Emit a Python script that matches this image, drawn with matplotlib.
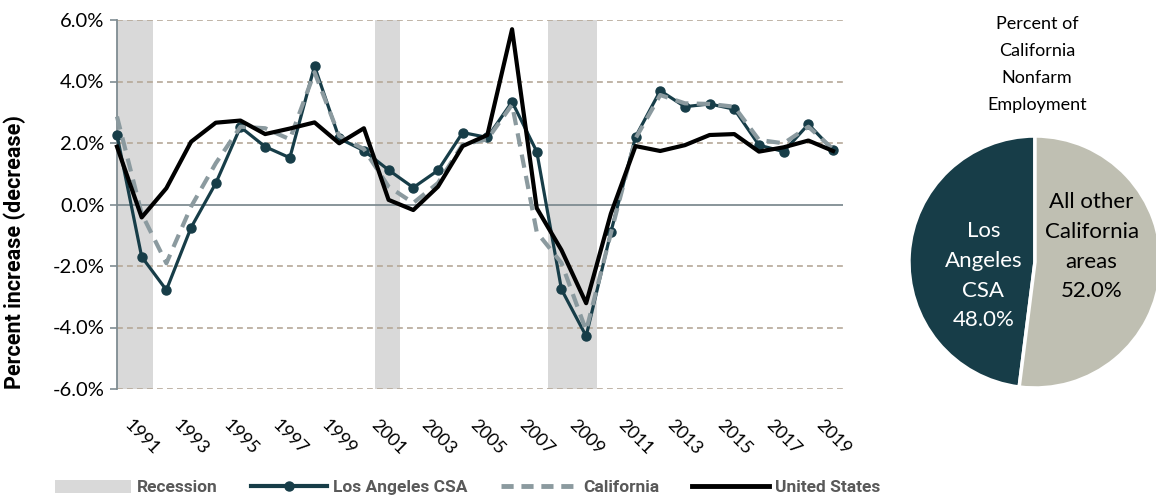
import matplotlib

matplotlib.use("Agg")
import matplotlib.pyplot as plt
from matplotlib.lines import Line2D
from matplotlib.patches import Patch

plt.rcParams["font.family"] = ["Lato", "DejaVu Sans"]
BOLD_FAMILY = ["Roboto", "DejaVu Sans"]

years = list(range(1990, 2020))
la_csa = [2.26, -1.70, -2.78, -0.75, 0.69, 2.52, 1.88, 1.52, 4.50, 2.15,
          1.75, 1.12, 0.55, 1.11, 2.34, 2.18, 3.34, 1.72, -2.76, -4.28,
          -0.90, 2.20, 3.70, 3.18, 3.27, 3.10, 1.93, 1.72, 2.61, 1.77]
california = [2.86, -0.30, -1.91, -0.07, 1.34, 2.53, 2.48, 2.12, 4.30, 2.23,
              1.80, 0.58, 0.05, 0.70, 1.95, 2.12, 3.25, -0.90, -1.90, -4.10,
              -0.94, 2.15, 3.56, 3.29, 3.27, 3.18, 2.10, 1.99, 2.53, 1.80]
united_states = [1.88, -0.42, 0.53, 2.04, 2.66, 2.73, 2.29, 2.47, 2.67, 1.99,
                 2.48, 0.15, -0.18, 0.58, 1.90, 2.26, 5.70, -0.12, -1.48, -3.21,
                 -0.30, 1.90, 1.74, 1.93, 2.26, 2.29, 1.72, 1.86, 2.08, 1.74]
recessions = [(1990.0, 1991.45), (2000.45, 2001.45), (2007.45, 2009.42)]
tick_years = list(range(1991, 2020, 2))
y_ticks = [-6, -4, -2, 0, 2, 4, 6]

pie_labels = ["Los\nAngeles\nCSA\n48.0%", "All other\nCalifornia\nareas\n52.0%"]
pie_shares = [48.0, 52.0]

LA_COLOR = "#173d48"
CA_COLOR = "#8b9a9f"
US_COLOR = "#000000"
REC_COLOR = "#d9d9d9"
GRID_COLOR = "#b5a898"
AXIS_COLOR = "#7f8c92"
OTHER_COLOR = "#bfbfb2"

fig = plt.figure(figsize=(11.56, 5.0), dpi=100)
ax = fig.add_axes([0.1012, 0.222, 0.628, 0.738])

for x0, x1 in recessions:
    ax.axvspan(x0, x1, color=REC_COLOR, lw=0, zorder=0)

for yv in y_ticks:
    if yv == 0:
        ax.axhline(0, color=AXIS_COLOR, lw=1.3, zorder=1)
    else:
        ax.axhline(yv, color=GRID_COLOR, lw=1.2, ls=(0, (3.5, 2.5)), zorder=0.5)

ax.plot(years, la_csa, color=LA_COLOR, lw=2.3, marker="o", ms=6.5, zorder=3, clip_on=False)
ax.plot(years, california, color=CA_COLOR, lw=3.0, ls=(0, (3.2, 2.0)), zorder=4, clip_on=False)
ax.plot(years, united_states, color=US_COLOR, lw=3.0, zorder=5, clip_on=False)

ax.set_xlim(1990, 2019.4)
ax.set_ylim(-6, 6)
ax.set_yticks(y_ticks)
ax.set_yticklabels([f"{v:.1f}%" for v in y_ticks], fontsize=14.5)
ax.set_xticks(tick_years)
ax.set_xticklabels([str(y) for y in tick_years], rotation=-45, ha="center",
                   va="top", fontsize=13)
ax.tick_params(axis="x", length=0, pad=20)
ax.tick_params(axis="y", length=5, color=AXIS_COLOR, width=1.2, pad=4)
for side in ["top", "right", "bottom"]:
    ax.spines[side].set_visible(False)
ax.spines["left"].set_color(AXIS_COLOR)
ax.spines["left"].set_linewidth(1.3)
ax.set_ylabel("Percent increase (decrease)", fontsize=15.5, fontweight="bold",
              family=BOLD_FAMILY)
ax.yaxis.set_label_coords(-0.125, 0.37)

handles = [
    Patch(facecolor=REC_COLOR, edgecolor="none"),
    Line2D([], [], color=LA_COLOR, lw=3, marker="o", ms=6.5),
    Line2D([], [], color=CA_COLOR, lw=3.5, ls=(0, (2.5, 1.6))),
    Line2D([], [], color=US_COLOR, lw=3.5),
]
leg = fig.legend(handles, ["Recession", "Los Angeles CSA", "California", "United States"],
                 loc="center", bbox_to_anchor=(0.4044, 0.025), ncol=4, frameon=False,
                 handlelength=4.4, handleheight=0.75, columnspacing=1.9, handletextpad=0.35,
                 prop={"size": 12.5, "weight": "bold", "family": BOLD_FAMILY})
for t in leg.get_texts():
    t.set_color("#595959")

pax = fig.add_axes([0.7863, 0.224, 0.218, 0.504])
wedges, texts = pax.pie(pie_shares, labels=pie_labels, colors=[LA_COLOR, OTHER_COLOR],
                        startangle=90, counterclock=True, labeldistance=0.5,
                        wedgeprops={"edgecolor": "white", "linewidth": 2.5},
                        textprops={"fontsize": 16, "ha": "center", "va": "center",
                                   "linespacing": 1.6})
texts[0].set_color("white")
texts[0].set_position((-0.41, -0.11))
texts[1].set_color("black")
texts[1].set_position((0.45, 0.12))
pax.set_xlim(-1, 1)
pax.set_ylim(-1, 1)
pax.set_aspect("equal")

fig.text(0.897, 0.968, "Percent of\nCalifornia\nNonfarm\nEmployment", ha="center", va="top",
         fontsize=13, linespacing=1.85)

fig.savefig("out.png", dpi=100)
